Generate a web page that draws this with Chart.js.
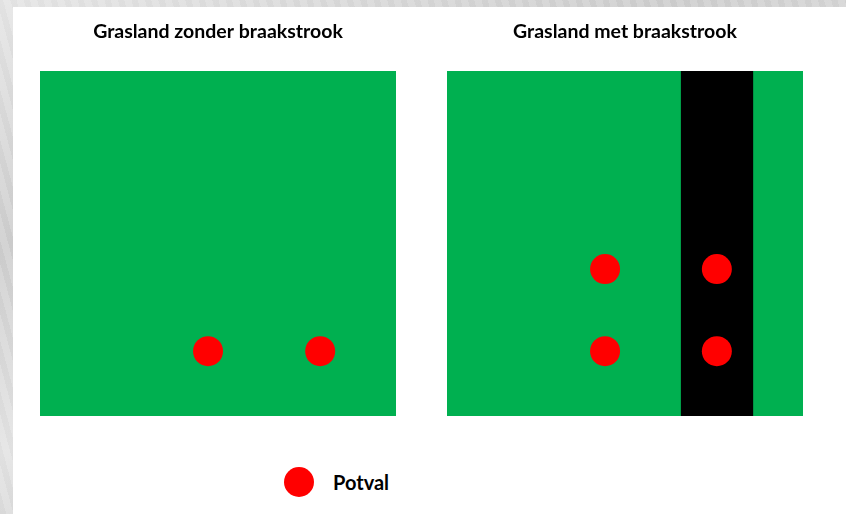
<!DOCTYPE html>
<html>
<head>
<meta charset="utf-8">
<script src="https://cdn.jsdelivr.net/npm/chart.js@4"></script>
<style>
  html, body { margin: 0; padding: 0; }
  body {
    width: 846px; height: 514px; overflow: hidden; position: relative;
    background: #dadada;
    background-image:
      linear-gradient(160deg, rgba(255,255,255,0.35) 0%, rgba(0,0,0,0.04) 30%, rgba(255,255,255,0.3) 55%, rgba(0,0,0,0.05) 80%, rgba(255,255,255,0.3) 100%),
      repeating-linear-gradient(75deg, rgba(0,0,0,0.03) 0 6px, rgba(255,255,255,0.06) 6px 13px);
  }
  #panel { position: absolute; left: 13px; top: 7px; right: 0; bottom: 0; background: #fff; }
  .chart { position: absolute; top: 0; width: 356px; height: 416px; }
  #legend {
    position: absolute; left: 284px; top: 467px; height: 30px;
    display: flex; align-items: center;
    font-family: Lato, sans-serif; font-weight: bold; font-size: 20px; color: #000;
  }
  #legend .dot { width: 30px; height: 30px; border-radius: 50%; background: #ff0000; margin-right: 19px; }
</style>
</head>
<body>
<div id="panel"></div>
<div class="chart" style="left:40px"><canvas id="links"></canvas></div>
<div class="chart" style="left:447px"><canvas id="rechts"></canvas></div>
<div id="legend"></div>

<script>
// velden: 0-10 in beide richtingen
const titels = ["Grasland zonder braakstrook", "Grasland met braakstrook"];
const potvalX1 = [4.72, 7.87];
const potvalY1 = [1.88, 1.88];
const potvalX2 = [4.44, 4.44, 7.58, 7.58];
const potvalY2 = [4.26, 1.88, 4.26, 1.88];
// braakstrook: [x van, x tot]
const strook1 = [];
const strook2 = [[6.57, 8.60]];
const legendaLabel = "Potval";

const groen = "#00b050";
const rood = "#ff0000";

const veldPlugin = {
  id: "veld",
  beforeDatasetsDraw(chart, args, opts) {
    const { ctx, chartArea, scales } = chart;
    ctx.save();
    ctx.fillStyle = groen;
    ctx.fillRect(chartArea.left, chartArea.top, chartArea.width, chartArea.height);
    ctx.fillStyle = "#000";
    opts.stroken.forEach(s => {
      const x0 = scales.x.getPixelForValue(s[0]);
      const x1 = scales.x.getPixelForValue(s[1]);
      ctx.fillRect(x0, chartArea.top, x1 - x0, chartArea.height);
    });
    ctx.restore();
  }
};

function maakVeld(id, titel, xs, ys, stroken) {
  new Chart(document.getElementById(id), {
    type: "scatter",
    data: {
      datasets: [{
        label: legendaLabel,
        data: xs.map((x, i) => ({ x: x, y: ys[i] })),
        pointRadius: 15,
        pointHoverRadius: 15,
        pointBackgroundColor: rood,
        pointBorderWidth: 0,
        clip: false
      }]
    },
    options: {
      responsive: true,
      maintainAspectRatio: false,
      animation: false,
      layout: { padding: 0, autoPadding: false },
      scales: {
        x: { type: "linear", min: 0, max: 10, display: false },
        y: { type: "linear", min: 0, max: 10, display: false }
      },
      plugins: {
        legend: { display: false },
        tooltip: { enabled: false },
        title: {
          display: true,
          text: titel,
          color: "#000",
          font: { family: "Lato", weight: "bold", size: 19.5, lineHeight: 1.2 },
          padding: { top: 20, bottom: 27.6 }
        },
        veld: { stroken: stroken }
      }
    },
    plugins: [veldPlugin]
  });
}

maakVeld("links", titels[0], potvalX1, potvalY1, strook1);
maakVeld("rechts", titels[1], potvalX2, potvalY2, strook2);

document.getElementById("legend").innerHTML =
  '<span class="dot"></span><span>' + legendaLabel + '</span>';
</script>
</body>
</html>
